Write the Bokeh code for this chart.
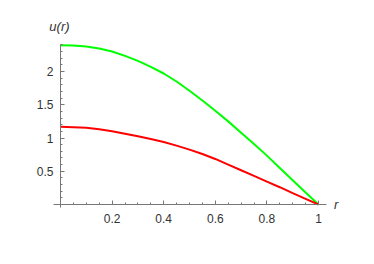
import numpy as np
from bokeh.plotting import figure
from bokeh.models import Range1d, FixedTicker, Label
from bokeh.embed import file_html
from bokeh.resources import INLINE

# data
r_vals = [0.0, 0.05, 0.1, 0.15, 0.2, 0.25, 0.3, 0.35, 0.4, 0.45, 0.5,
          0.55, 0.6, 0.65, 0.7, 0.75, 0.8, 0.85, 0.9, 0.95, 1.0]
u_green = [2.395, 2.39, 2.375, 2.345, 2.30, 2.235, 2.16, 2.07, 1.97, 1.85, 1.71,
           1.565, 1.41, 1.25, 1.08, 0.91, 0.735, 0.55, 0.365, 0.18, 0.0]
u_red = [1.168, 1.163, 1.153, 1.13, 1.10, 1.065, 1.027, 0.985, 0.94, 0.885, 0.825,
         0.76, 0.685, 0.60, 0.515, 0.43, 0.345, 0.26, 0.17, 0.085, 0.0]

x_ticks = [0.2, 0.4, 0.6, 0.8, 1.0]
x_tick_labels = {0.2: "0.2", 0.4: "0.4", 0.6: "0.6", 0.8: "0.8", 1.0: "1"}
y_ticks = [0.5, 1.0, 1.5, 2.0]
y_tick_labels = {0.5: "0.5", 1.0: "1", 1.5: "1.5", 2.0: "2"}

W, H = 370, 260
p = figure(width=W, height=H, output_backend="svg", toolbar_location=None,
           x_range=Range1d(-0.23256, 1.20155), y_range=Range1d(-0.8421, 3.0677),
           min_border=0, min_border_left=0, min_border_right=0,
           min_border_top=0, min_border_bottom=0)
p.outline_line_color = None
p.grid.visible = False
p.background_fill_color = "white"
p.border_fill_color = "white"

p.line(r_vals, u_green, line_color="#00ff00", line_width=2)
p.line(r_vals, u_red, line_color="#ff0000", line_width=2)

minor_x = [round(v, 3) for v in np.arange(0.05, 1.031, 0.05) if abs(v / 0.2 - round(v / 0.2)) > 1e-6]
minor_y = [round(v, 3) for v in np.arange(0.1, 2.41, 0.1) if abs(v / 0.5 - round(v / 0.5)) > 1e-6]
p.xaxis.ticker = FixedTicker(ticks=x_ticks, minor_ticks=minor_x)
p.yaxis.ticker = FixedTicker(ticks=y_ticks, minor_ticks=minor_y)
p.xaxis.major_label_overrides = x_tick_labels
p.yaxis.major_label_overrides = y_tick_labels
p.xaxis.bounds = (-0.027, 1.031)
p.yaxis.bounds = (-0.04, 2.41)
p.xaxis.fixed_location = 0
p.yaxis.fixed_location = 0

for ax in (p.xaxis[0], p.yaxis[0]):
    ax.axis_line_color = "#777777"
    ax.major_tick_line_color = "#777777"
    ax.minor_tick_line_color = "#777777"
    ax.major_tick_in = 4
    ax.major_tick_out = 0
    ax.minor_tick_in = 2
    ax.minor_tick_out = 0
    ax.major_label_text_font = "Liberation Sans"
    ax.major_label_text_font_size = "12px"
    ax.major_label_text_color = "#333333"
p.xaxis.major_label_standoff = 9
p.yaxis.major_label_standoff = 7

p.add_layout(Label(x=-0.004, y=2.68, text="u(r)",
                   text_font="Liberation Sans", text_font_style="italic",
                   text_font_size="13px", text_color="#333333",
                   text_align="center", text_baseline="middle"))
p.add_layout(Label(x=1.068, y=-0.0075, text="r",
                   text_font="Liberation Sans", text_font_style="italic",
                   text_font_size="13px", text_color="#333333",
                   text_align="center", text_baseline="middle"))

open("out.html", "w").write(file_html(p, INLINE))
